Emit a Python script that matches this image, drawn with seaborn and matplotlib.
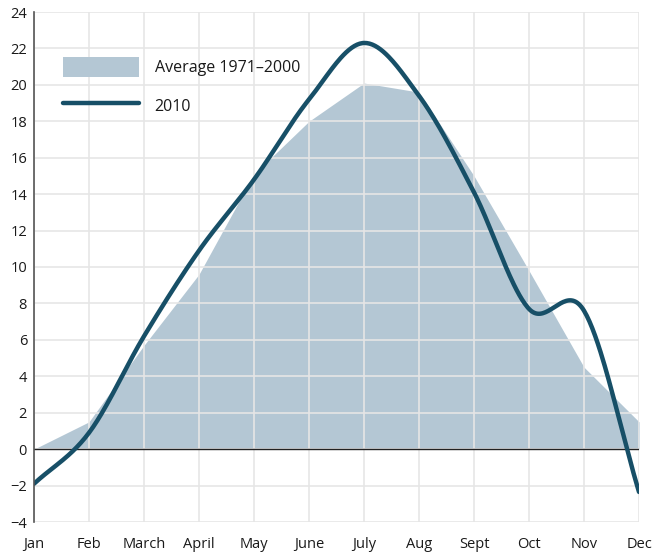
import numpy as np
import pandas as pd
import matplotlib
matplotlib.use("Agg")
import matplotlib.pyplot as plt
import seaborn as sns
from matplotlib.patches import Patch
from matplotlib.lines import Line2D

months = ["Jan", "Feb", "March", "April", "May", "June", "July", "Aug", "Sept", "Oct", "Nov", "Dec"]
average_1971_2000 = [0.0, 1.5, 5.7, 9.6, 15.1, 18.0, 20.1, 19.6, 15.0, 9.8, 4.5, 1.5]
temps_2010 = [-1.9, 0.9, 6.2, 10.9, 14.8, 19.2, 22.3, 19.4, 14.1, 7.7, 7.6, -2.35]
y_ticks = list(range(-4, 25, 2))

FILL = "#b4c7d4"
LINE = "#174f67"
GRID = "#e6e6e6"


def catmull_rom(y, n=40):
    y = np.asarray(y, dtype=float)
    p = np.concatenate([[2 * y[0] - y[1]], y, [2 * y[-1] - y[-2]]])
    xs, ys = [], []
    for i in range(len(y) - 1):
        p0, p1, p2, p3 = p[i], p[i + 1], p[i + 2], p[i + 3]
        t = np.linspace(0, 1, n, endpoint=False)
        m1 = (p2 - p0) / 2
        m2 = (p3 - p1) / 2
        h00 = 2 * t**3 - 3 * t**2 + 1
        h10 = t**3 - 2 * t**2 + t
        h01 = -2 * t**3 + 3 * t**2
        h11 = t**3 - t**2
        xs.append(i + t)
        ys.append(h00 * p1 + h10 * m1 + h01 * p2 + h11 * m2)
    xs.append([len(y) - 1])
    ys.append([y[-1]])
    return np.concatenate(xs), np.concatenate(ys)


sns.set_theme(style="white")
plt.rcParams["font.family"] = ["Open Sans", "DejaVu Sans"]

fig = plt.figure(figsize=(6.54, 5.52), dpi=100)
ax = fig.add_axes([34 / 654, 1 - 522 / 552, (639 - 34) / 654, 510 / 552])

x = np.arange(len(months))
ax.fill_between(x, 0, average_1971_2000, color=FILL, linewidth=0, zorder=1)

sx, sy = catmull_rom(temps_2010)
df = pd.DataFrame({"x": sx, "y": sy})
sns.lineplot(data=df, x="x", y="y", ax=ax, color=LINE, linewidth=3.2, zorder=4, sort=False)

ax.set_xlim(0, len(months) - 1)
ax.set_ylim(-4, 24)
ax.set_xticks(x)
ax.set_xticklabels(months)
ax.set_yticks(y_ticks)
ax.set_yticklabels([f"{v}".replace("-", "\u2212") for v in y_ticks])
ax.set_xlabel("")
ax.set_ylabel("")

for v in y_ticks:
    ax.axhline(v, color=GRID, linewidth=1.2, zorder=2)
for v in x:
    ax.axvline(v, color=GRID, linewidth=1.2, zorder=2)
ax.axhline(0, color="#222222", linewidth=1.0, zorder=3)

for s in ["top", "right", "bottom"]:
    ax.spines[s].set_visible(False)
ax.spines["left"].set_color("#555555")
ax.spines["left"].set_linewidth(1.2)
ax.spines["left"].set_zorder(5)

ax.tick_params(axis="both", length=0, labelsize=10.5, colors="#1a1a1a")
ax.tick_params(axis="x", pad=11)
ax.tick_params(axis="y", pad=5)

handles = [Patch(facecolor=FILL, edgecolor="none"), Line2D([0], [0], color=LINE, linewidth=3.2)]
leg = ax.legend(handles, ["Average 1971\u20132000", "2010"], loc="upper left",
                bbox_to_anchor=(0.037, 0.924), frameon=False, fontsize=11.5,
                handlelength=4.8, handleheight=1.55, labelspacing=1.15, handletextpad=0.95,
                borderaxespad=0)
for t in leg.get_texts():
    t.set_color("#1a1a1a")

fig.savefig("out.png", dpi=100)
